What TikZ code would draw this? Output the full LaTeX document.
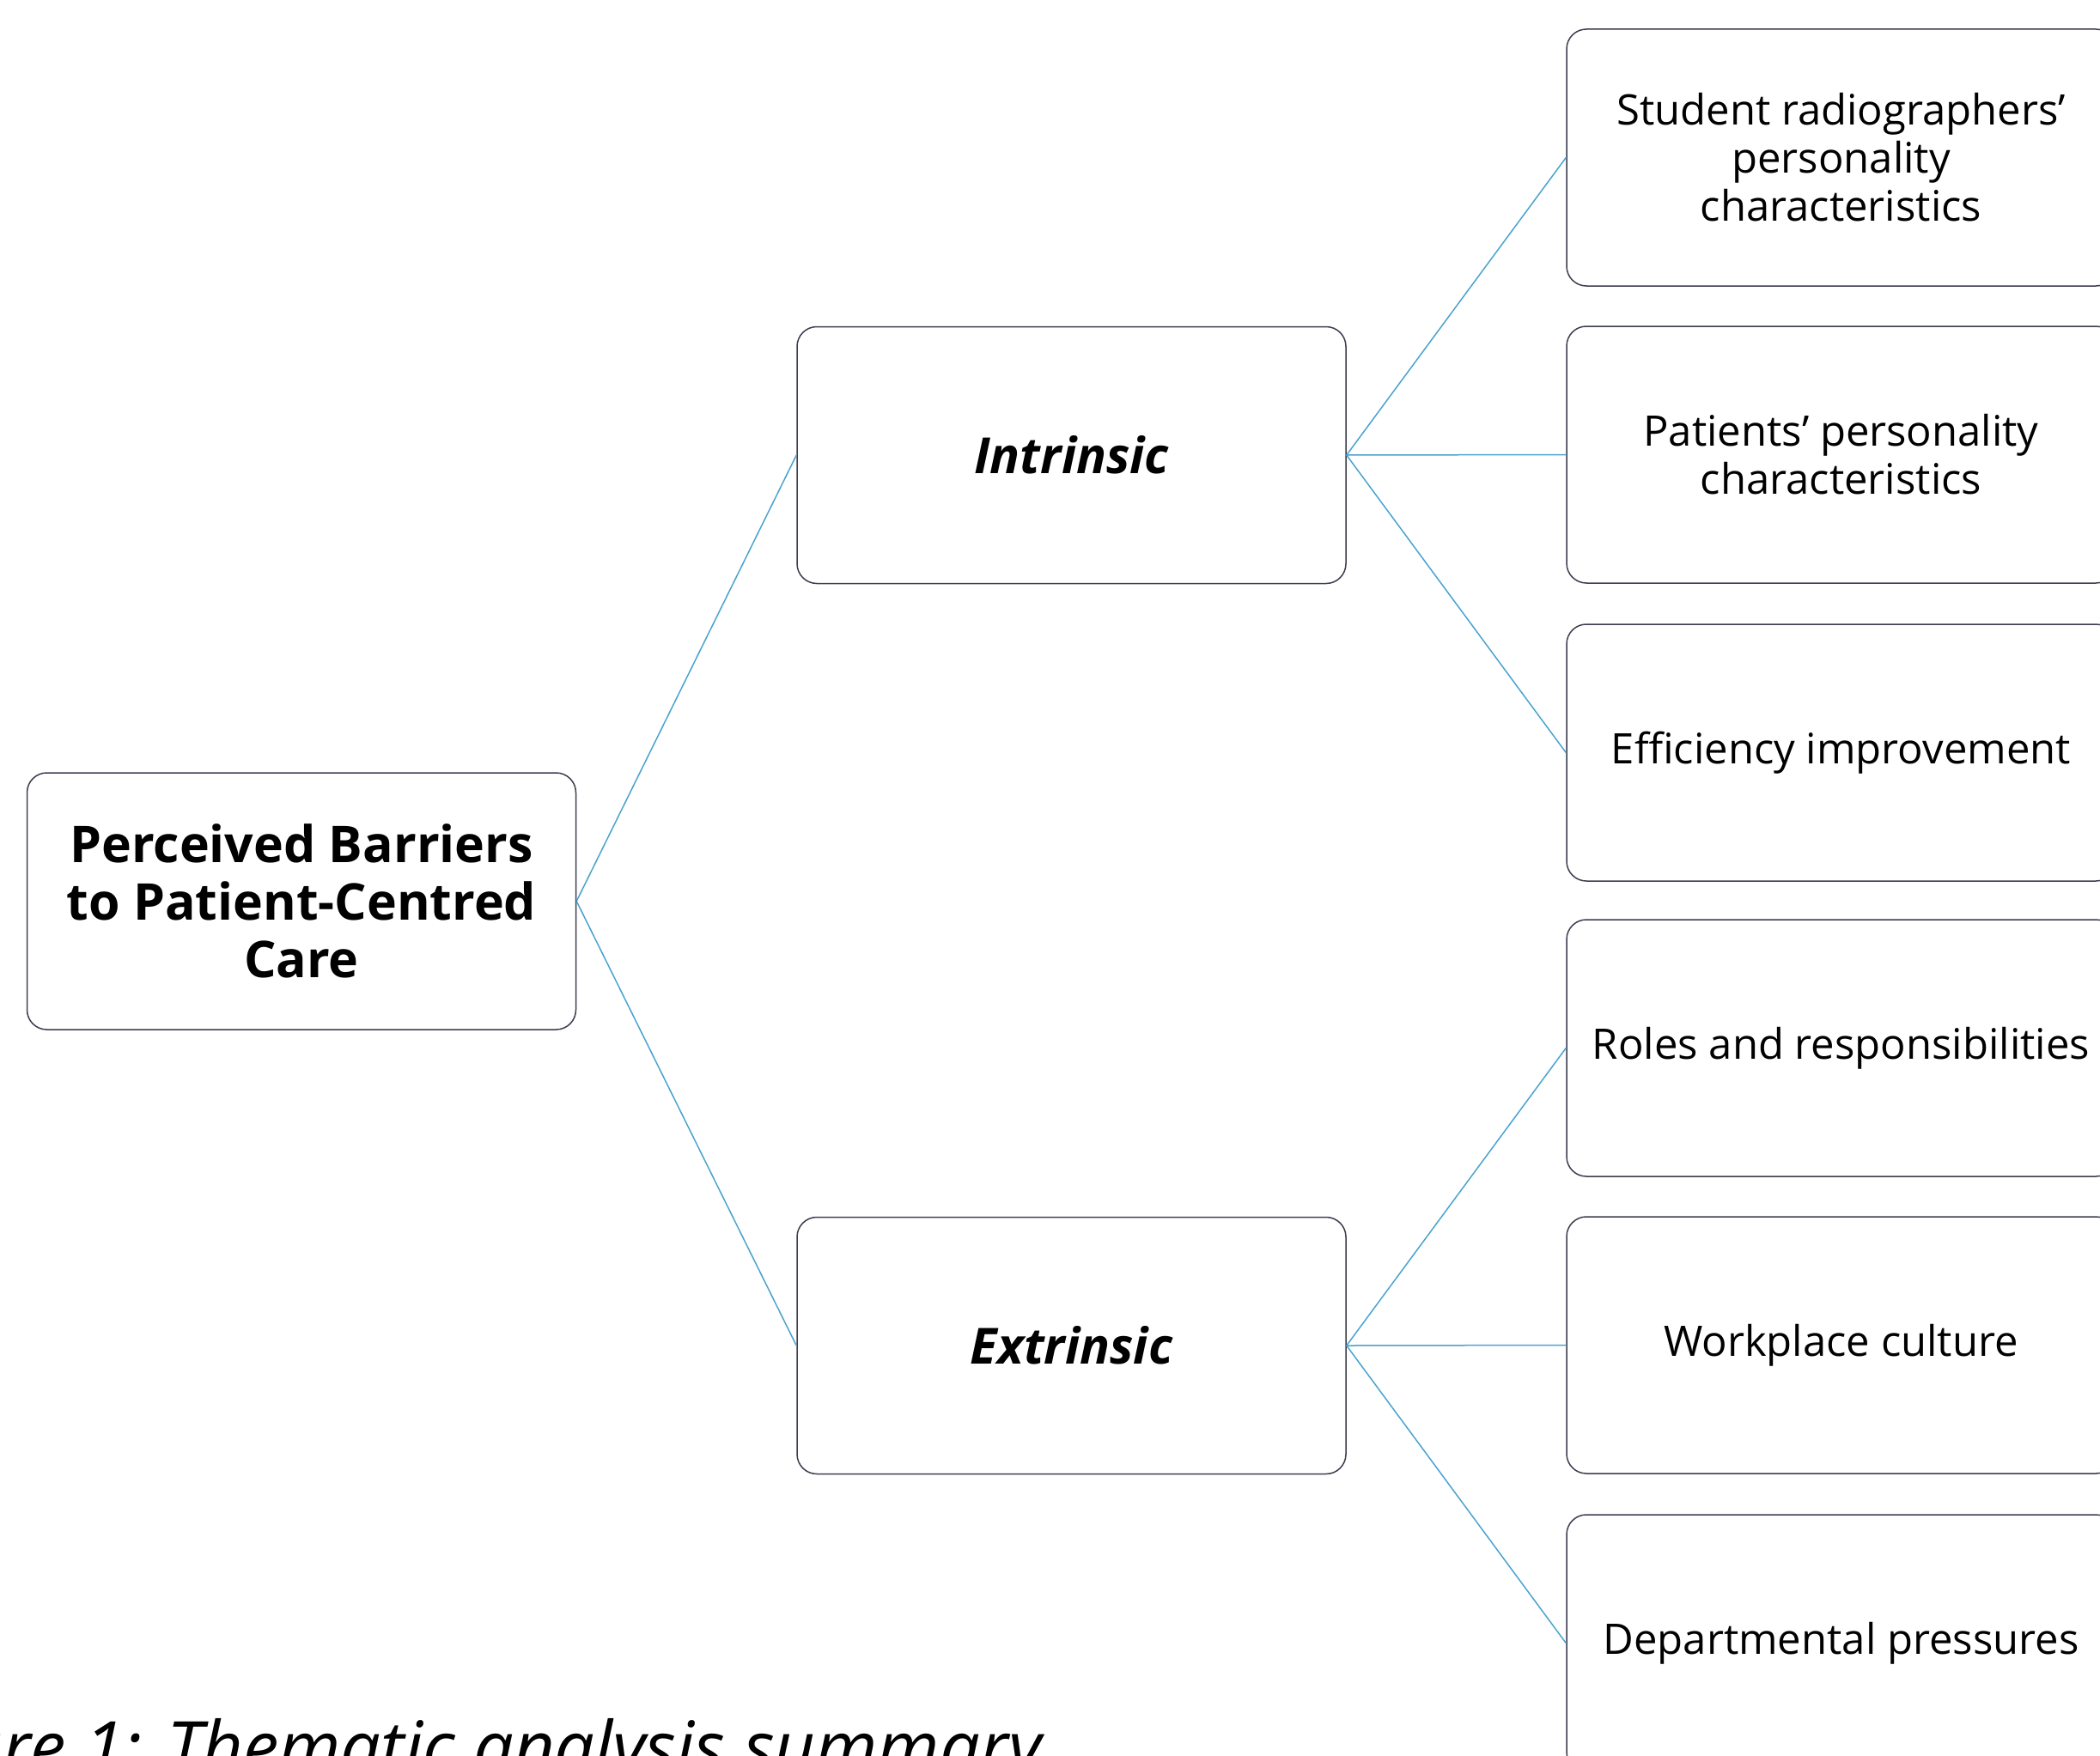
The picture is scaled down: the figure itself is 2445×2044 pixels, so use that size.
\documentclass[tikz,border=0pt]{standalone}
\usepackage{fontspec}
\setmainfont{Open Sans}
\begin{document}
\begin{tikzpicture}[x=0.5pt,y=-0.5pt,
  box/.style={draw=boxline, line width=0.75pt, rounded corners=11.5pt, fill=white,
    minimum width=319.5pt, minimum height=149.5pt, align=center, inner sep=0pt},
  leaf/.style={box, font=\fontsize{24.5pt}{28pt}\selectfont},
  mid/.style={box, font=\fontsize{29pt}{33pt}\selectfont\bfseries\itshape},
  rootbox/.style={box, font=\fontsize{29.5pt}{33.5pt}\selectfont\bfseries},
  link/.style={draw=linkblue, line width=0.75pt}]
\definecolor{boxline}{RGB}{60,62,78}
\definecolor{linkblue}{RGB}{74,163,208}
\useasboundingbox (0,0) rectangle (2445,2044);
\clip (0,0) rectangle (2445,2044);
\node[rootbox] (root) at (351,1049.5) {Perceived Barriers\\to Patient-Centred\\Care};
\node[mid] (intr) at (1247.5,530) {Intrinsic};
\node[mid] (extr) at (1247.5,1567) {Extrinsic};
\node[leaf] (a) at (2143.5,183.5) {Student radiographers’\\personality\\characteristics};
\node[leaf] (b) at (2143.5,529.5) {Patients’ personality\\characteristics};
\node[leaf] (c) at (2143.5,876.5) {Efficiency improvement};
\node[leaf] (d) at (2143.5,1220.5) {Roles and responsibilities};
\node[leaf] (e) at (2143.5,1566.5) {Workplace culture};
\node[leaf] (f) at (2143.5,1913.5) {Departmental pressures};
\draw[link] (root.east) -- (intr.west);
\draw[link] (root.east) -- (extr.west);
\foreach \t in {a,b,c}{\draw[link] (intr.east) -- (\t.west);}
\foreach \t in {d,e,f}{\draw[link] (extr.east) -- (\t.west);}
\node[anchor=base east, inner sep=0pt, font=\fontsize{41.5pt}{46pt}\selectfont\itshape] (cap) at (1213,2064) {Figure 1: Thematic analysis summary};
\end{tikzpicture}
\end{document}
